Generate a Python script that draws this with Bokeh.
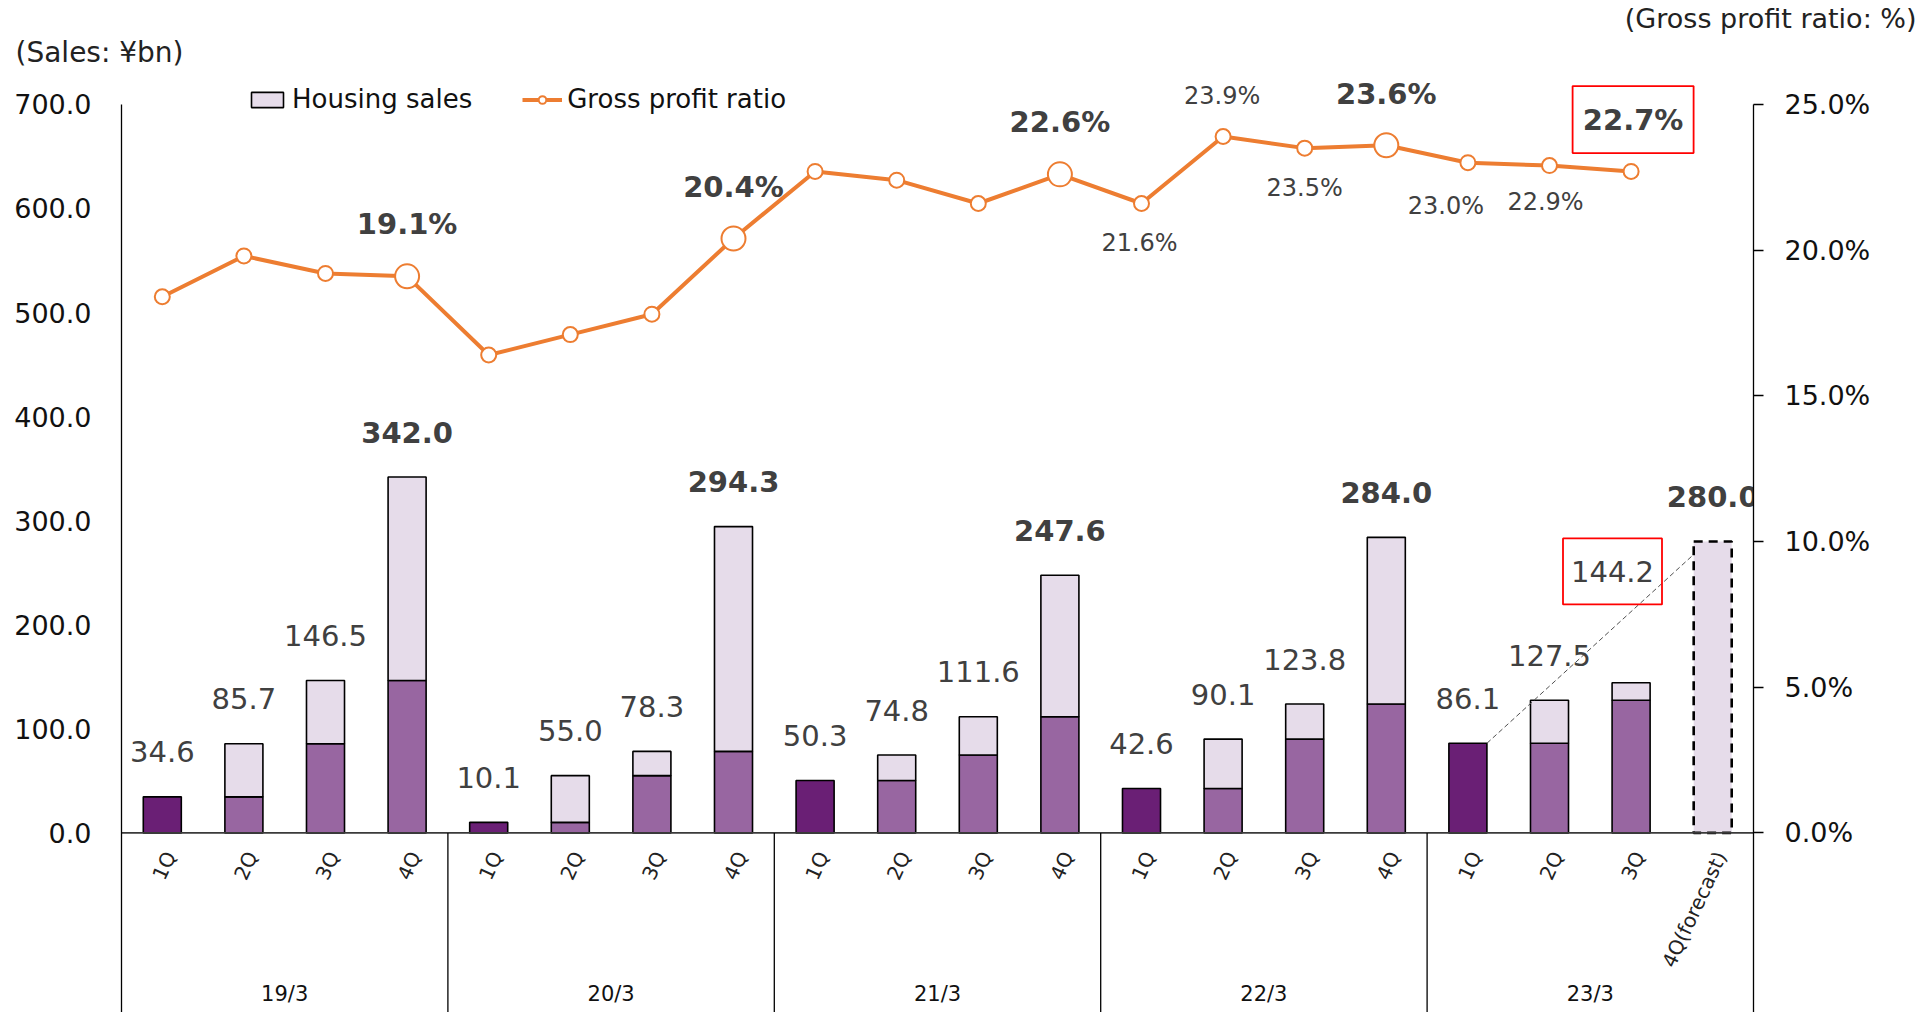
import math
from bokeh.plotting import figure
from bokeh.models import (Range1d, LinearAxis, FixedTicker, Legend, LegendItem,
                          Title, ColumnDataSource, PrintfTickFormatter)
from bokeh.core.properties import value
from bokeh.embed import file_html
from bokeh.resources import INLINE

# ---------------- data ----------------
years = ["19/3", "20/3", "21/3", "22/3", "23/3"]
quarters = ["1Q", "2Q", "3Q", "4Q"]
forecast_label = "4Q(forecast)"
# cumulative housing sales (¥bn) per quarter
cum_sales = [34.6, 85.7, 146.5, 342.0,
             10.1, 55.0, 78.3, 294.3,
             50.3, 74.8, 111.6, 247.6,
             42.6, 90.1, 123.8, 284.0,
             86.1, 127.5, 144.2, 280.0]
# gross profit ratio (%) per quarter (no value for the forecast)
gross_ratio = [18.4, 19.8, 19.2, 19.1,
               16.4, 17.1, 17.8, 20.4,
               22.7, 22.4, 21.6, 22.6,
               21.6, 23.9, 23.5, 23.6,
               23.0, 22.9, 22.7]
left_ticks = [0, 100, 200, 300, 400, 500, 600, 700]
right_ticks = [0, 5, 10, 15, 20, 25]

# ---------------- layout constants ----------------
W, H = 1932, 1012
FL, FR = 121, 1753          # frame left / right (px)
FT = 66                     # frame top (px)
Y0_PX, Y700_PX = 832, 102   # px of 0 and 700
PXY = (Y0_PX - Y700_PX) / 700.0
y_top = 700 + (Y700_PX - FT) / PXY
y_bot = -(H - Y0_PX) / PXY
N = len(cum_sales)
PXX = (FR - FL) / float(N)
PCT_MAX = 25.0
PXP = PXY * 700 / PCT_MAX   # px per percent
BW = 0.466

DARK = "#6A1F75"
MED = "#9866A1"
LIGHT = "#E6DCEA"
ORANGE = "#ED7D31"
GREY = "#404040"
FONT = "DejaVu Sans"

p = figure(width=W, height=H, x_range=Range1d(0, N), y_range=Range1d(y_bot, y_top),
           x_axis_type=None, y_axis_type=None, toolbar_location=None,
           output_backend="svg", title=None,
           min_border_left=FL, min_border_right=W - FR,
           min_border_top=FT, min_border_bottom=0)
p.outline_line_color = None
p.extra_y_ranges = {"pct": Range1d(y_bot * PCT_MAX / 700, y_top * PCT_MAX / 700)}

# headers
p.add_layout(Title(text="(Sales: ¥bn)", align="left", offset=15 - FL, standoff=0,
                   text_font=FONT, text_font_size="28px", text_font_style="normal",
                   text_color="#222222"), "above")
p.add_layout(Title(text="(Gross profit ratio: %)", align="right", offset=FR - 1916, standoff=0,
                   text_font=FONT, text_font_size="27px", text_font_style="normal",
                   text_color="#222222"), "above")

# axes
yl = LinearAxis(ticker=FixedTicker(ticks=left_ticks), bounds=(y_bot, 700),
                formatter=PrintfTickFormatter(format="%.1f"))
yl.major_tick_out = 0
yl.major_tick_in = 0
yl.minor_tick_out = 0
yl.axis_line_color = "black"
yl.axis_line_width = 1.3
yl.major_label_standoff = 30
yl.major_label_text_font = FONT
yl.major_label_text_font_size = "27px"
yl.major_label_text_color = "#111111"
p.add_layout(yl, "left")

yr = LinearAxis(y_range_name="pct", ticker=FixedTicker(ticks=right_ticks),
                bounds=(y_bot * PCT_MAX / 700, PCT_MAX),
                formatter=PrintfTickFormatter(format="%.1f%%"))
yr.major_tick_out = 10
yr.major_tick_in = 0
yr.minor_tick_out = 0
yr.major_tick_line_width = 1.3
yr.axis_line_color = "black"
yr.axis_line_width = 1.3
yr.major_label_standoff = 21
yr.major_label_text_font = FONT
yr.major_label_text_font_size = "27px"
yr.major_label_text_color = "#111111"
p.add_layout(yr, "right")

# ---------------- bars ----------------
dark = dict(x=[], top=[])
med = dict(x=[], top=[])
light = dict(x=[], bottom=[], top=[])
for i, v in enumerate(cum_sales):
    if i == N - 1:
        continue
    x = i + 0.5
    if i % 4 == 0:
        dark["x"].append(x); dark["top"].append(v)
    else:
        med["x"].append(x); med["top"].append(cum_sales[i - 1])
        light["x"].append(x); light["bottom"].append(cum_sales[i - 1]); light["top"].append(v)

p.vbar(x="x", top="top", bottom=0, width=BW, source=ColumnDataSource(dark),
       fill_color=DARK, line_color="black", line_width=1.6)
p.vbar(x="x", top="top", bottom=0, width=BW, source=ColumnDataSource(med),
       fill_color=MED, line_color="black", line_width=1.6)
light_r = p.vbar(x="x", top="top", bottom="bottom", width=BW, source=ColumnDataSource(light),
                 fill_color=LIGHT, line_color="black", line_width=1.6)
p.vbar(x=[N - 0.5], top=[cum_sales[-1]], bottom=0, width=BW,
       fill_color=LIGHT, line_color="black", line_width=2.6, line_dash="9 6")

# connector dashed line from 23/3 1Q to forecast
p.segment(x0=[16 + 0.5 + BW / 2], y0=[cum_sales[16]],
          x1=[N - 0.5 - BW / 2], y1=[cum_sales[-1] - 13 / PXY],
          line_color="#505050", line_width=1, line_dash="5 3")

# x axis line and group separators
p.segment(x0=[0], y0=[0], x1=[N], y1=[0], line_color="#3a3a3a", line_width=1.6)
seps = [4 * k for k in range(1, len(years))]
p.segment(x0=seps, y0=[0] * len(seps), x1=seps, y1=[y_bot] * len(seps),
          line_color="black", line_width=1.3)

# category labels (rotated)
cat_text = []
for k in range(len(years)):
    for q in quarters:
        cat_text.append(q)
cat_text[-1] = forecast_label
p.text(x=[i + 0.5 + 8 / PXX for i in range(N)], y=[-20 / PXY] * N, text=cat_text,
       angle=math.radians(65), text_align="right", text_baseline="middle",
       text_font=value(FONT), text_font_size="20px", text_color="#222222")
p.text(x=[4 * k + 2 for k in range(len(years))], y=[-(993 - Y0_PX) / PXY] * len(years),
       text=years, text_align="center", text_baseline="middle",
       text_font=value(FONT), text_font_size="21px", text_color="#111111")

# value labels
LAB_UP = 45 / PXY
norm_i = [i for i in range(N) if i % 4 != 3 and i != 18]
bold_i = [i for i in range(N) if i % 4 == 3]
p.text(x=[i + 0.5 for i in norm_i], y=[cum_sales[i] + LAB_UP for i in norm_i],
       text=["%.1f" % cum_sales[i] for i in norm_i], text_align="center",
       text_baseline="middle", text_font=value(FONT), text_font_size="29px",
       text_color=GREY)
p.text(x=[i + 0.5 for i in bold_i], y=[cum_sales[i] + LAB_UP for i in bold_i],
       text=["%.1f" % cum_sales[i] for i in bold_i], text_align="center",
       text_baseline="middle", text_font=value(FONT), text_font_size="29px",
       text_font_style="bold", text_color=GREY)
# boxed 144.2
bx = 18 + 0.5 - 18.6 / PXX
by = cum_sales[18] + 111.6 / PXY
p.rect(x=[bx], y=[by], width=99, height=66, width_units="screen", height_units="screen",
       fill_alpha=0, line_color="#FF0000", line_width=1.8)
p.text(x=[bx], y=[by], text=["%.1f" % cum_sales[18]], text_align="center",
       text_baseline="middle", text_font=value(FONT), text_font_size="29px",
       text_color=GREY)

# ---------------- gross profit ratio line ----------------
gx = [i + 0.5 for i in range(len(gross_ratio))]
line_r = p.line(gx, gross_ratio, y_range_name="pct", line_color=ORANGE, line_width=4)
small_i = [i for i in range(len(gross_ratio)) if i % 4 != 3]
big_i = [i for i in range(len(gross_ratio)) if i % 4 == 3]
small_r = p.scatter([gx[i] for i in small_i], [gross_ratio[i] for i in small_i],
                    y_range_name="pct", size=15, fill_color="white",
                    line_color=ORANGE, line_width=2)
p.scatter([gx[i] for i in big_i], [gross_ratio[i] for i in big_i],
          y_range_name="pct", size=24, fill_color="white",
          line_color=ORANGE, line_width=2)

# ratio labels: index -> (dx px, dy px up, bold)
ratio_lab = {3: (0, 52, True), 7: (0, 52, True), 11: (0, 52, True),
             12: (-2, -40, False), 13: (-1, 41, False), 14: (0, -40, False),
             15: (0, 51, True), 16: (-22, -43, False), 17: (-4, -36, False),
             18: (2, 52, True)}
for bold in (False, True):
    ids = [i for i in ratio_lab if ratio_lab[i][2] == bold]
    p.text(x=[gx[i] + ratio_lab[i][0] / PXX for i in ids],
           y=[gross_ratio[i] + ratio_lab[i][1] / PXP for i in ids],
           text=["%.1f%%" % gross_ratio[i] for i in ids], y_range_name="pct",
           text_align="center", text_baseline="middle", text_font=value(FONT),
           text_font_size="29px" if bold else "24px",
           text_font_style="bold" if bold else "normal", text_color=GREY)
# red box around the latest ratio
p.rect(x=[gx[18] + 2 / PXX], y=[gross_ratio[18] + 52 / PXP], width=121, height=67,
       width_units="screen", height_units="screen", y_range_name="pct",
       fill_alpha=0, line_color="#FF0000", line_width=1.8)

# ---------------- legend ----------------
legend = Legend(items=[LegendItem(label="Housing sales", renderers=[light_r]),
                       LegendItem(label="Gross profit ratio", renderers=[line_r, small_r])],
                orientation="horizontal", location=(126, 898),
                label_text_font=FONT, label_text_font_size="26px", label_text_color="#111111",
                glyph_width=40, glyph_height=19, label_standoff=5, spacing=50,
                padding=0, margin=0, border_line_color=None, background_fill_alpha=0)
p.add_layout(legend)

open("out.html", "w").write(file_html(p, INLINE))
